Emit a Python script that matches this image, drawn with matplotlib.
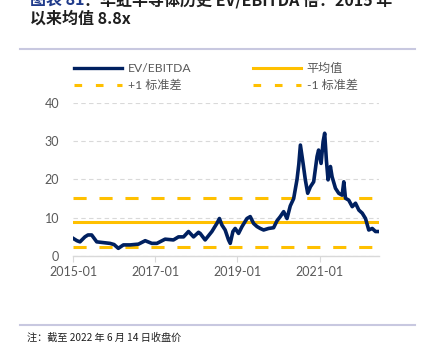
import matplotlib
matplotlib.use("Agg")
import matplotlib.pyplot as plt
from matplotlib.lines import Line2D
import pandas as pd

plt.rcParams['font.family'] = ['Lato', 'Noto Sans CJK SC', 'DejaVu Sans']

# ---------------- data ----------------
dates = ["2015-01-03", "2015-02-05", "2015-03-04", "2015-04-17", "2015-05-14", "2015-06-16",
         "2015-07-31", "2015-09-28", "2015-11-26", "2016-01-01", "2016-02-08", "2016-03-24",
         "2016-05-23", "2016-08-05", "2016-10-04", "2016-12-02", "2017-01-16", "2017-03-30",
         "2017-06-12", "2017-07-27", "2017-09-10", "2017-10-24", "2017-12-08", "2018-01-21",
         "2018-02-05", "2018-03-21", "2018-05-20", "2018-07-03", "2018-07-26", "2018-08-17",
         "2018-09-15", "2018-10-15", "2018-10-30", "2018-11-23", "2018-12-13", "2019-01-12",
         "2019-02-12", "2019-03-28", "2019-04-26", "2019-05-26", "2019-06-25", "2019-07-24",
         "2019-08-23", "2019-10-06", "2019-11-20", "2019-12-20", "2020-01-18", "2020-02-17",
         "2020-03-18", "2020-04-16", "2020-05-16", "2020-06-15", "2020-07-01", "2020-07-15",
         "2020-08-08", "2020-08-28", "2020-09-18", "2020-10-12", "2020-11-10", "2020-12-10",
         "2020-12-24", "2021-01-15", "2021-02-02", "2021-02-16", "2021-03-03", "2021-03-18",
         "2021-04-08", "2021-04-23", "2021-05-23", "2021-06-21", "2021-07-21", "2021-08-05",
         "2021-08-20", "2021-09-18", "2021-10-19", "2021-11-17", "2021-12-17", "2022-01-16",
         "2022-02-14", "2022-03-15", "2022-04-15", "2022-05-14", "2022-06-13"]
ev_ebitda = [4.6, 4.0, 3.7, 5.0, 5.5, 5.5,
             3.7, 3.5, 3.3, 3.0, 2.0, 2.9,
             2.9, 3.1, 4.0, 3.3, 3.3, 4.4,
             4.2, 5.0, 5.0, 6.4, 5.0, 6.2,
             5.9, 4.2, 6.4, 8.5, 9.8, 8.1,
             6.8, 4.2, 3.3, 6.4, 7.2, 5.9,
             7.7, 9.8, 10.3, 8.5, 7.7, 7.2,
             6.8, 7.2, 7.4, 9.2, 10.3, 11.6,
             9.8, 13.1, 15.0, 20.0, 24.0, 29.0,
             24.2, 19.9, 16.4, 18.1, 19.4, 26.0,
             27.7, 24.2, 29.9, 32.1, 25.1, 19.9,
             23.4, 20.7, 17.7, 16.4, 15.9, 19.4,
             15.1, 14.6, 12.9, 13.8, 12.0, 11.2,
             9.8, 6.8, 7.2, 6.4, 6.4]
mean_val = 8.8
plus_1sd = 15.2
minus_1sd = 2.4
x_ticks = ["2015-01-01", "2017-01-01", "2019-01-01", "2021-01-01"]
x_tick_labels = ["2015-01", "2017-01", "2019-01", "2021-01"]
y_ticks = [0, 10, 20, 30, 40]
legend_labels = ["EV/EBITDA", "平均值", "+1 标准差", "-1 标准差"]
title_prefix = "图表 81"
title_line1 = "：华虹半导体历史 EV/EBITDA 倍：2015 年"
title_line2 = "以来均值 8.8x"
note = "注：截至 2022 年 6 月 14 日收盘价"

# ---------------- figure ----------------
W, H = 430, 351
fig = plt.figure(figsize=(W / 100, H / 100), dpi=100)
fig.patch.set_facecolor("white")

def fx(px):
    return px / W

def fy(py):
    return 1 - py / H

ax = fig.add_axes([fx(73), fy(256), fx(379) - fx(73), fy(103) - fy(256)])

NAVY = "#002060"
GOLD = "#FFC000"

d = pd.to_datetime(dates)
xmin = pd.Timestamp("2015-01-01")
xmax = pd.Timestamp("2022-06-14")

ax.plot(d, ev_ebitda, color=NAVY, lw=2.6, solid_joinstyle="round", zorder=4)
ax.plot([xmin, xmax], [mean_val, mean_val], color=GOLD, lw=2.2, zorder=3)
ax.plot([xmin, xmax], [plus_1sd, plus_1sd], color=GOLD, lw=2.2, dashes=(4.3, 4.2), zorder=3)
ax.plot([xmin, xmax], [minus_1sd, minus_1sd], color=GOLD, lw=2.2, dashes=(4.3, 4.2), zorder=3)

ax.set_xlim(xmin, xmax)
ax.set_ylim(0, 40)
ax.set_yticks(y_ticks)
ax.set_xticks(pd.to_datetime(x_ticks))
ax.set_xticklabels(x_tick_labels)

for s in ["top", "right", "left"]:
    ax.spines[s].set_visible(False)
ax.spines["bottom"].set_color("#D9D9D9")
ax.spines["bottom"].set_linewidth(1.0)

ax.yaxis.grid(True, color="#D9D9D9", lw=0.8, dashes=(4, 3))
ax.set_axisbelow(True)
ax.tick_params(axis="y", length=0, pad=10, labelsize=9, labelcolor="#595959")
ax.tick_params(axis="x", length=4, width=0.8, color="#D9D9D9", direction="out",
               pad=3, labelsize=9, labelcolor="#595959")

handles = [
    Line2D([], [], color=NAVY, lw=2.4),
    Line2D([], [], color=GOLD, lw=2.2),
    Line2D([], [], color=GOLD, lw=2.2, dashes=(2.5, 4.5)),
    Line2D([], [], color=GOLD, lw=2.2, dashes=(2.5, 4.5)),
]
order = [0, 2, 1, 3]
leg = fig.legend([handles[i] for i in order], [legend_labels[i] for i in order],
                 ncol=2, loc="upper left", bbox_to_anchor=(fx(63), fy(52)),
                 frameon=False, handlelength=4.0, handletextpad=0.45,
                 columnspacing=5.1, labelspacing=0.45,
                 prop={"family": ["Lato", "Noto Sans CJK SC"], "size": 8.7})
for t in leg.get_texts():
    t.set_color("#595959")

# title (top line clipped by the page edge, as in the reference)
t1 = fig.text(fx(30), fy(0), title_prefix, fontsize=11.5, fontweight="bold", color="#1F3A8A",
              va="center", ha="left", family=["Noto Sans CJK SC", "DejaVu Sans"])
fig.canvas.draw()
bb = t1.get_window_extent()
fig.text(bb.x1 / W, fy(0), title_line1, fontsize=11.5, fontweight="bold", color="#1F1F1F",
         va="center", ha="left", family=["Noto Sans CJK SC", "DejaVu Sans"])
fig.text(fx(30), fy(19), title_line2, fontsize=11.5, fontweight="bold", color="#1F1F1F",
         va="center", ha="left", family=["Noto Sans CJK SC", "DejaVu Sans"])

# separators
fig.add_artist(Line2D([fx(20), fx(415)], [fy(49), fy(49)], color="#C8C8E0", lw=1.5))
fig.add_artist(Line2D([fx(20), fx(415)], [fy(325), fy(325)], color="#C8C8E0", lw=1.5))

fig.text(fx(27), fy(338), note, fontsize=7.3, color="#1F1F1F", va="center", ha="left",
         family=["Noto Sans CJK SC", "DejaVu Sans"])

fig.savefig("out.png", dpi=100)
